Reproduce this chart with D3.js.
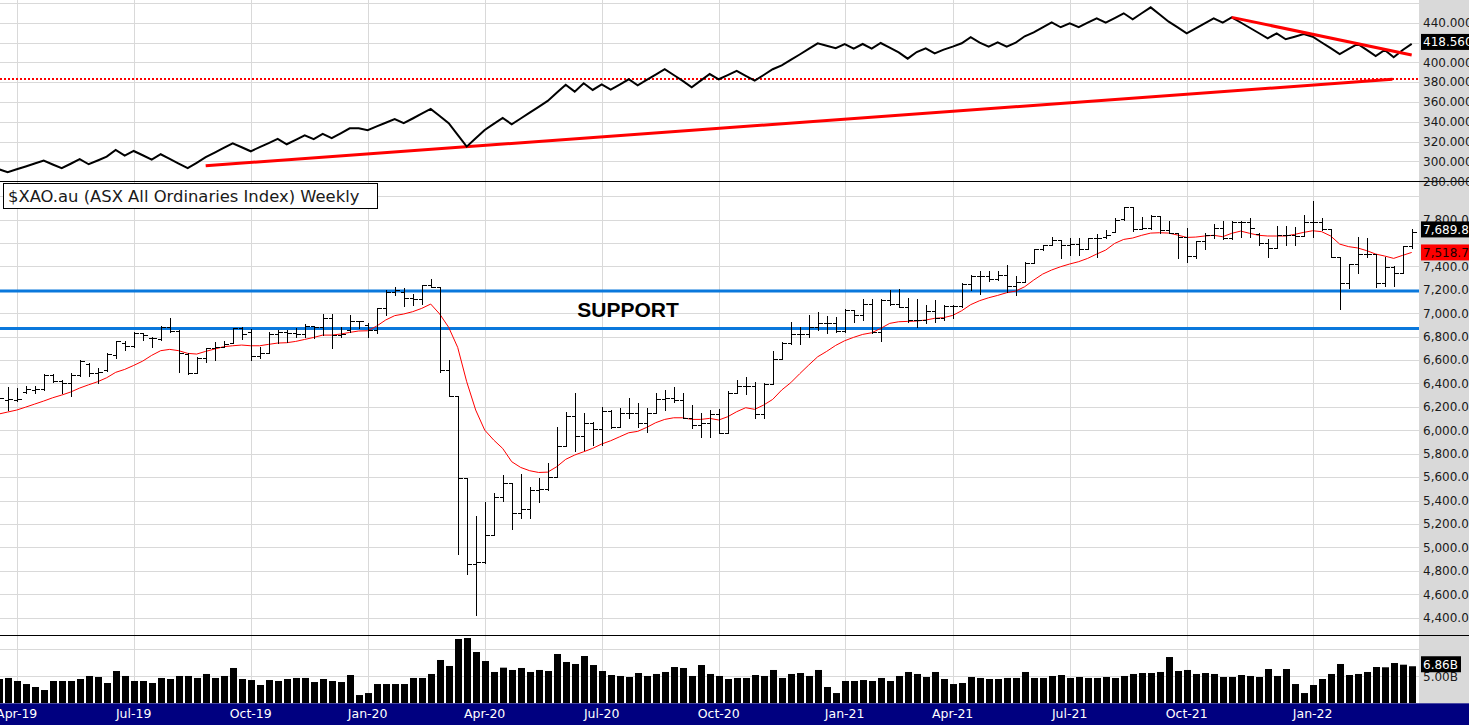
<!DOCTYPE html>
<html><head><meta charset="utf-8">
<script src="https://cdn.jsdelivr.net/npm/d3@7"></script>
<style>body{margin:0;background:#fff;overflow:hidden}svg{display:block}</style>
</head><body><svg id="c" width="1469" height="725"></svg>
<script>
// ---------- DATA (weekly bars, week of 2019-03-18 .. 2022-03-21) ----------
const firstWeek = "2019-03-18", lastWeek = "2022-03-21";

const opens = [6240,6260,6262,6330,6340,6350,6470,6425,6400,6470,
6570,6490,6514,6640,6745,6720,6830,6790,6780,6880,
6850,6650,6490,6614,6700,6714,6743,6870,6842,6637,
6660,6822,6842,6830,6822,6893,6880,6956,6814,6855,
6936,6900,6860,7046,7183,7183,7127,7121,7240,7226,
6514,6292,5589,4855,4872,5105,5433,5547,5296,5325,
5490,5495,5604,5868,6122,5954,6059,6011,6164,6031,
6144,6144,6059,6150,6264,6272,6258,6102,6045,6059,
6139,5979,6321,6378,6378,6136,6395,6606,6742,6822,
6822,6885,6919,6919,6848,7027,6984,7075,6842,7112,
7075,7050,6942,6942,7021,6956,7061,7061,7249,7317,
7317,7289,7326,7232,7269,7431,7545,7582,7625,7582,
7588,7545,7645,7650,7690,7801,7904,7716,7730,7830,
7710,7682,7647,7488,7619,7664,7724,7639,7781,7781,
7680,7602,7553,7667,7667,7659,7781,7781,7716,7482,
7260,7420,7505,7505,7260,7397,7340,7573];
const highs = [6290,6372,6358,6378,6375,6480,6480,6430,6490,6600,
6577,6530,6660,6765,6760,6840,6830,6800,6890,6955,
6855,6660,6628,6700,6756,6762,6876,6880,6862,6714,
6842,6856,6856,6870,6907,6893,6993,6993,6885,6985,
6936,6914,7046,7198,7226,7212,7164,7240,7289,7226,
6600,6292,5589,5268,5390,5461,5618,5547,5623,5512,
5589,5717,6025,6158,6315,6144,6073,6201,6170,6187,
6273,6236,6187,6315,6344,6372,6315,6216,6144,6173,
6178,6338,6429,6452,6415,6400,6680,6757,6922,6880,
6985,7013,6976,6970,7033,7027,7118,7118,7118,7198,
7203,7127,7118,7070,7112,7070,7070,7255,7326,7360,
7363,7360,7411,7317,7440,7545,7582,7653,7625,7645,
7645,7645,7673,7710,7810,7904,7904,7824,7838,7830,
7790,7682,7724,7619,7682,7761,7790,7790,7790,7810,
7682,7630,7744,7744,7739,7838,7958,7810,7716,7482,
7420,7647,7639,7505,7482,7402,7573,7716];
const lows = [6230,6173,6250,6315,6320,6345,6410,6320,6290,6460,
6460,6405,6510,6615,6690,6710,6770,6715,6775,6840,
6500,6480,6486,6585,6600,6714,6743,6780,6600,6620,
6660,6742,6756,6800,6800,6785,6814,6700,6800,6842,
6870,6800,6830,6985,7155,7061,7070,7078,7220,6500,
6292,4943,4770,4422,4870,5105,5398,5154,5248,5248,
5390,5490,5604,5868,5826,5831,5874,5874,6016,6030,
6102,6030,5988,6144,6173,6244,6102,6016,5945,5945,
5975,5979,6315,6310,6102,6102,6395,6606,6737,6737,
6800,6856,6828,6842,6842,6928,6942,6833,6765,7070,
7050,6928,6885,6913,6928,6942,6956,7055,7198,7164,
7278,7283,7184,7155,7269,7431,7540,7582,7468,7497,
7497,7545,7483,7639,7690,7795,7704,7716,7716,7682,
7682,7468,7440,7470,7545,7639,7630,7630,7647,7647,
7582,7477,7553,7582,7582,7659,7653,7710,7477,7032,
7212,7346,7482,7226,7232,7232,7340,7553];
const closes = [6280,6267,6270,6350,6350,6475,6425,6400,6470,6590,
6490,6500,6655,6760,6720,6830,6815,6790,6885,6850,
6660,6490,6614,6700,6714,6740,6870,6822,6637,6660,
6822,6842,6830,6822,6893,6880,6956,6814,6822,6936,
6930,6860,7046,7183,7198,7127,7121,7240,7226,6514,
6292,5589,4855,4872,5105,5433,5547,5296,5325,5490,
5495,5604,5868,6122,5954,6059,6011,6164,6031,6144,
6144,6059,6150,6264,6272,6258,6102,6045,6059,6139,
5979,6321,6378,6378,6136,6395,6606,6742,6822,6822,
6885,6919,6919,6848,7027,6984,7075,6842,7112,7075,
7050,6942,6942,7021,6956,7061,7061,7249,7317,7317,
7289,7326,7232,7269,7431,7545,7582,7625,7582,7588,
7545,7645,7645,7664,7800,7904,7716,7730,7830,7710,
7682,7647,7488,7619,7664,7724,7639,7781,7781,7724,
7602,7553,7667,7667,7659,7781,7781,7716,7482,7260,
7420,7505,7505,7260,7397,7340,7573,7689.8];
// 10-week moving average as drawn (red)
const movingAvg = [6139,6156,6173,6198,6224,6250,6278,6301,6327,6361,
6389,6415,6449,6495,6520,6554,6591,6640,6680,6691,
6680,6657,6651,6674,6694,6714,6722,6728,6722,6722,
6734,6745,6748,6759,6776,6793,6813,6813,6822,6836,
6848,6850,6890,6942,6979,6993,7013,7041,7078,6993,
6879,6708,6415,6173,6002,5917,5845,5732,5683,5655,
5640,5643,5689,5752,5789,5817,5846,5883,5911,5945,
5979,5991,6025,6065,6093,6107,6107,6093,6093,6102,
6088,6116,6159,6193,6179,6216,6264,6344,6406,6483,
6557,6628,6674,6725,6765,6794,6819,6833,6870,6913,
6927,6930,6933,6942,6956,6962,6981,7021,7073,7107,
7132,7152,7175,7189,7226,7283,7334,7369,7397,7420,
7440,7468,7505,7539,7596,7630,7642,7665,7684,7687,
7684,7667,7647,7650,7659,7665,7653,7682,7701,7682,
7665,7659,7659,7659,7673,7690,7704,7696,7659,7590,
7568,7557,7534,7505,7488,7468,7494,7518.7];
// volume, billions
const volume = [4.5,4.69,4.13,3.57,3.02,2.46,4.13,4.13,4.13,4.5,
5.06,4.87,3.76,5.98,5.06,4.13,4.13,3.76,4.69,4.5,
5.06,5.06,4.69,5.43,4.69,5.06,6.54,4.5,4.31,3.39,
4.31,4.13,4.5,4.69,4.69,3.94,4.5,4.13,3.94,5.24,
1.53,1.9,3.57,3.57,3.57,3.57,4.69,4.69,5.43,8.02,
6.91,11.91,12.09,9.5,7.83,5.8,6.6,6.17,6.54,5.8,
6.17,5.98,9.13,7.65,7.28,8.76,7.09,5.98,5.24,5.06,
4.87,5.61,5.06,5.43,5.8,6.72,6.54,5.06,7.09,5.43,
5.06,4.5,4.69,4.69,5.24,5.06,6.17,4.69,5.43,5.61,
5.06,6.17,3.02,1.9,4.13,4.13,4.31,4.13,4.69,4.13,
5.06,5.8,5.43,4.87,5.8,4.5,3.57,3.76,4.87,4.69,
4.5,4.5,4.69,4.69,5.8,4.69,4.69,5.06,5.24,4.69,
4.87,4.69,4.69,4.87,4.69,5.06,5.43,5.61,5.61,5.8,
8.57,5.98,6.17,5.43,5.61,5.43,4.87,4.87,5.24,5.06,
4.87,6.35,5.06,6.35,3.57,1.9,3.39,4.5,5.43,7.28,
5.24,5.43,5.8,6.72,6.67,7.46,7.15,6.86];
// upper panel indicator line
const indicator = [292.1,289.1,292.0,294.9,297.8,300.8,296.9,293.1,297.6,302.2,
297.1,300.9,304.8,311.6,305.8,310.5,306.2,301.8,307.2,302.5,
297.7,293.1,298.6,304.2,308.9,313.6,318.3,314.3,310.2,314.4,
318.5,322.7,317.3,321.8,326.4,322.4,327.7,323.4,328.4,333.4,
333.4,331.4,335.3,339.0,342.8,338.5,343.3,348.1,352.9,345.9,
338.5,326.7,314.9,323.4,331.7,337.8,343.8,337.5,343.3,349.2,
355.1,361.0,369.3,377.4,370.4,378.9,372.1,377.8,372.4,377.6,
382.9,376.8,382.2,387.6,393.0,387.2,381.2,374.8,381.5,388.2,
382.9,387.0,391.3,386.4,381.5,387.2,393.0,397.0,402.4,407.9,
413.5,419.2,416.7,414.2,418.5,413.8,418.5,413.8,419.5,414.8,
410.1,403.7,410.4,414.2,409.1,412.8,415.8,419.2,425.3,419.8,
415.8,420.2,415.8,419.8,426.3,430.3,435.4,440.4,435.4,439.4,
435.4,440.0,444.4,440.0,444.7,449.5,443.4,449.5,455.5,448.3,
441.0,435.2,429.3,434.3,439.4,444.4,440.0,445.4,440.2,434.9,
429.6,424.3,429.3,423.3,425.9,428.6,425.9,420.0,414.3,408.4,
413.5,418.5,412.5,406.4,412.5,405.1,412.5,418.56];

// annotations
const supportLevels = [7190, 6870];
const indicatorLevel = 383.2;
const trendUp = [["2019-08-26", 295.7], ["2022-03-06", 382.9]];
const trendDown = [["2021-11-01", 445.4], ["2022-03-21", 407.4]];

// axis ticks
const tickDates = ["2019-04-01","2019-07-01","2019-09-30","2019-12-30","2020-03-30","2020-06-29","2020-09-28","2021-01-04","2021-03-29","2021-06-28","2021-09-27","2022-01-03"];
const tickLabels = ["Apr-19","Jul-19","Oct-19","Jan-20","Apr-20","Jul-20","Oct-20","Jan-21","Apr-21","Jul-21","Oct-21","Jan-22"];
const topTicks = [280,300,320,340,360,380,400,420,440];
const mainTicks = [4400,4600,4800,5000,5200,5400,5600,5800,6000,6200,6400,6600,6800,7000,7200,7400,7600,7800];
const volTicks = [5];

// ---------- LAYOUT ----------
const W = 1469, H = 725, plotR = 1419;
const topBottom = 181, mainBottom = 635, volBottom = 703.3;
const parse = d3.utcParse("%Y-%m-%d");
const weeks = d3.utcMonday.range(parse(firstWeek), d3.utcDay.offset(parse(lastWeek), 1));
const bars = weeks.map((d, i) => ({d, o: opens[i], h: highs[i], l: lows[i], c: closes[i], ma: movingAvg[i], v: volume[i], ind: indicator[i]}));

const x = d3.scaleUtc().domain([weeks[0], weeks[weeks.length - 1]]).range([-1.3, 1411.7]);
const yTop = d3.scaleLinear().domain([280, 440]).range([181.2, 22.7]);
const yMain = d3.scaleLinear().domain([4400, 7800]).range([617.7, 219.5]);
const yVol = d3.scaleLinear().domain([0, 10]).range([volBottom, 649.3]);
const px = d => Math.round(x(d)) + 0.5;

const svg = d3.select("#c");
const FONT = "'DejaVu Sans', Verdana, sans-serif";
svg.append("rect").attr("width", W).attr("height", H).attr("fill", "#fff");

const defs = svg.append("defs");
const clip = (id, y0, y1) => defs.append("clipPath").attr("id", id).append("rect").attr("x", 0).attr("y", y0).attr("width", plotR).attr("height", y1 - y0);
clip("cTop", 0, topBottom); clip("cMain", topBottom, mainBottom); clip("cVol", mainBottom, volBottom);

// grid
const grid = svg.append("g").attr("stroke", "#d9d9d9").attr("stroke-width", 1).attr("shape-rendering", "crispEdges");
const tds = tickDates.map(parse);
grid.selectAll("line.v").data(tds).join("line").attr("x1", px).attr("x2", px).attr("y1", 0).attr("y2", volBottom);
grid.selectAll("line.t").data(d3.range(280, 461, 20)).join("line").attr("x1", 0).attr("x2", plotR)
  .attr("y1", d => Math.round(yTop(d)) + 0.5).attr("y2", d => Math.round(yTop(d)) + 0.5);
grid.selectAll("line.m").data(d3.range(4400, 8001, 200)).join("line").attr("x1", 0).attr("x2", plotR)
  .attr("y1", d => Math.round(yMain(d)) + 0.5).attr("y2", d => Math.round(yMain(d)) + 0.5);
grid.selectAll("line.vv").data([5, 10]).join("line").attr("x1", 0).attr("x2", plotR)
  .attr("y1", d => Math.round(yVol(d)) + 0.5).attr("y2", d => Math.round(yVol(d)) + 0.5);

// right axis panel
svg.append("rect").attr("x", plotR).attr("y", 0).attr("width", W - plotR).attr("height", volBottom).attr("fill", "#d9d9d9");

// ---------- TOP PANEL ----------
const gTop = svg.append("g").attr("clip-path", "url(#cTop)");
gTop.append("line").attr("x1", 0).attr("x2", plotR).attr("y1", yTop(indicatorLevel)).attr("y2", yTop(indicatorLevel))
  .attr("stroke", "#ff0000").attr("stroke-width", 2).attr("stroke-dasharray", "2,2");
const tLine = d3.line().x(p => x(parse(p[0]))).y(p => yTop(p[1]));
gTop.append("path").attr("d", tLine(trendUp)).attr("stroke", "#ff0000").attr("stroke-width", 3).attr("fill", "none");
gTop.append("path").attr("d", d3.line().x(b => x(b.d)).y(b => yTop(b.ind))(bars))
  .attr("fill", "none").attr("stroke", "#000").attr("stroke-width", 2).attr("stroke-linejoin", "miter");
gTop.append("path").attr("d", tLine(trendDown)).attr("stroke", "#ff0000").attr("stroke-width", 3).attr("fill", "none");

// ---------- MAIN PANEL ----------
const gMain = svg.append("g").attr("clip-path", "url(#cMain)");
gMain.selectAll("line.sup").data(supportLevels).join("line").attr("x1", 0).attr("x2", plotR)
  .attr("y1", d => yMain(d)).attr("y2", d => yMain(d)).attr("stroke", "#0a78dc").attr("stroke-width", 3);
gMain.append("path").attr("d", d3.line().x(b => x(b.d)).y(b => yMain(b.ma))(bars))
  .attr("fill", "none").attr("stroke", "#ff0000").attr("stroke-width", 1);
const ohlc = gMain.append("g").attr("stroke", "#000").attr("stroke-width", 1).attr("shape-rendering", "crispEdges");
const yr = v => Math.round(yMain(v)) + 0.5;
ohlc.selectAll("line.hl").data(bars).join("line").attr("x1", b => px(b.d)).attr("x2", b => px(b.d))
  .attr("y1", b => Math.round(yMain(b.h))).attr("y2", b => Math.round(yMain(b.l)) + 1);
ohlc.selectAll("line.o").data(bars).join("line").attr("x1", b => px(b.d) - 4).attr("x2", b => px(b.d))
  .attr("y1", b => yr(b.o)).attr("y2", b => yr(b.o));
ohlc.selectAll("line.c").data(bars).join("line").attr("x1", b => px(b.d)).attr("x2", b => px(b.d) + 4)
  .attr("y1", b => yr(b.c)).attr("y2", b => yr(b.c));

svg.append("text").attr("x", 628).attr("y", 317).attr("text-anchor", "middle")
  .attr("font-family", "'Liberation Sans', Arial, sans-serif").attr("font-weight", "bold").attr("font-size", 21)
  .attr("fill", "#000").text("SUPPORT");

// ---------- VOLUME ----------
const gVol = svg.append("g").attr("clip-path", "url(#cVol)");
gVol.selectAll("rect").data(bars).join("rect").attr("x", b => Math.round(x(b.d)) - 3).attr("width", 7)
  .attr("y", b => yVol(b.v)).attr("height", b => volBottom - yVol(b.v)).attr("fill", "#000");

// panel separators
svg.append("line").attr("x1", 0).attr("x2", W).attr("y1", topBottom + 0.5).attr("y2", topBottom + 0.5).attr("stroke", "#000");
svg.append("line").attr("x1", 0).attr("x2", W).attr("y1", mainBottom + 0.5).attr("y2", mainBottom + 0.5).attr("stroke", "#000");

// ---------- VALUE TAGS (positions) ----------
const last = bars[bars.length - 1];
const tags = [
  {yc: yTop(last.ind) - 2, txt: d3.format(".3f")(last.ind), bg: "#000", fg: "#fff", w: 48},
  {yc: yMain(last.c) - 3, txt: d3.format(",.1f")(last.c), bg: "#000", fg: "#fff", w: 48},
  {yc: yMain(last.ma), txt: d3.format(",.1f")(last.ma), bg: "#ff0000", fg: "#1a0000", w: 48},
  {yc: yVol(last.v) - 2, txt: last.v.toFixed(2) + "B", bg: "#000", fg: "#fff", w: 40}
];
// an axis label is hidden when a value tag covers most of it
const hidden = y => tags.some(t => Math.abs(t.yc - y) < 9.6);

// ---------- AXES ----------
const axisTxt = (g) => g.attr("font-family", FONT).attr("font-size", 12).attr("fill", "#1a1a1a");
const aTop = svg.append("g").call(axisTxt);
aTop.selectAll("text").data(topTicks.filter(d => !hidden(yTop(d)))).join("text").attr("x", 1423).attr("y", d => yTop(d)).attr("dy", "0.36em").text(d3.format(".3f"));
const aMain = svg.append("g").call(axisTxt);
aMain.selectAll("text").data(mainTicks.filter(d => !hidden(yMain(d)))).join("text").attr("x", 1423).attr("y", d => yMain(d)).attr("dy", "0.36em").text(d3.format(",.1f"));
const aVol = svg.append("g").call(axisTxt);
aVol.selectAll("text").data(volTicks).join("text").attr("x", 1423).attr("y", d => yVol(d)).attr("dy", "0.36em").text(d => d.toFixed(2) + "B");

// bottom date band
svg.append("rect").attr("x", 0).attr("y", volBottom).attr("width", W).attr("height", H - volBottom).attr("fill", "#000080");
svg.append("g").selectAll("text").data(tds).join("text").attr("x", x).attr("y", 713).attr("dy", "0.36em")
  .attr("text-anchor", "middle").attr("font-family", FONT).attr("font-size", 12.5).attr("fill", "#ffffff")
  .text((d, i) => tickLabels[i]);

// value tags
tags.forEach(t => {
  const g = svg.append("g");
  g.append("rect").attr("x", 1421).attr("y", t.yc - 8).attr("width", t.w).attr("height", 16).attr("fill", t.bg);
  g.append("text").attr("x", 1423).attr("y", t.yc).attr("dy", "0.36em").attr("font-family", FONT).attr("font-size", 12)
    .attr("fill", t.fg).text(t.txt);
});

// legend
const lg = svg.append("g");
lg.append("rect").attr("x", 3.5).attr("y", 183.5).attr("width", 374).attr("height", 25).attr("fill", "#fff").attr("stroke", "#000");
lg.append("text").attr("x", 8).attr("y", 196).attr("dy", "0.36em").attr("font-family", FONT).attr("font-size", 16.4)
  .attr("fill", "#1a1a1a").text("$XAO.au (ASX All Ordinaries Index) Weekly");
</script></body></html>
